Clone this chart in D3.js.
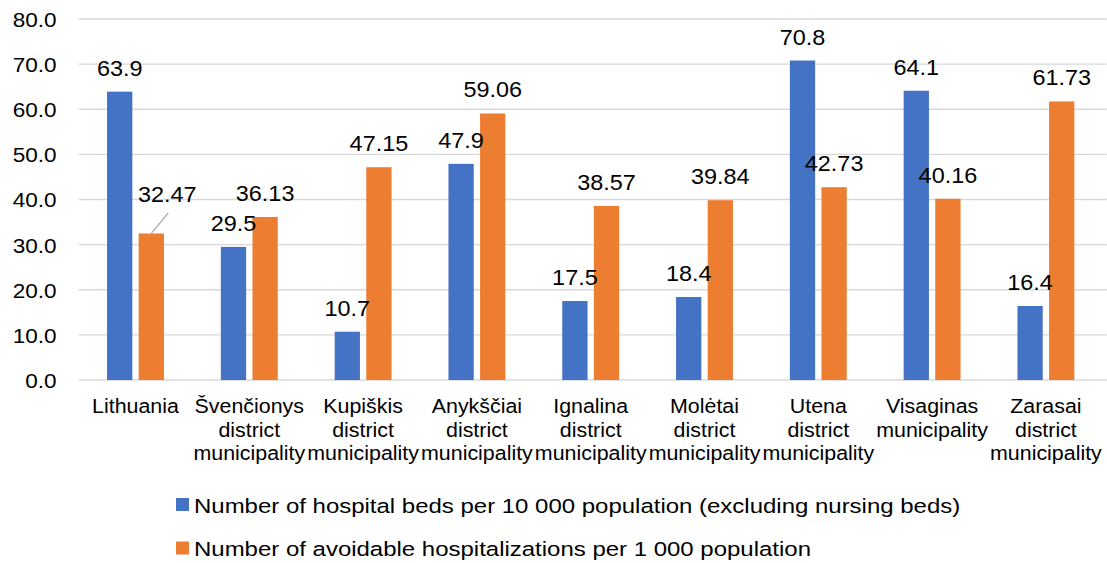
<!DOCTYPE html>
<html>
<head>
<meta charset="utf-8">
<script src="https://cdn.jsdelivr.net/npm/d3@7"></script>
<style>
  html, body { margin: 0; padding: 0; background: #fff; }
  svg { display: block; font-family: "Liberation Sans", Arial, sans-serif; }
</style>
</head>
<body>
<svg id="chart" width="1107" height="563"></svg>
<script>
// Categories (each label split into its display lines)
const categories = [
  ["Lithuania"],
  ["Švenčionys", "district", "municipality"],
  ["Kupiškis", "district", "municipality"],
  ["Anykščiai", "district", "municipality"],
  ["Ignalina", "district", "municipality"],
  ["Molėtai", "district", "municipality"],
  ["Utena", "district", "municipality"],
  ["Visaginas", "municipality"],
  ["Zarasai", "district", "municipality"]
];

const seriesNames = [
  "Number of hospital beds per 10 000 population (excluding nursing beds)",
  "Number of avoidable hospitalizations per 1 000 population"
];

const hospitalBeds = [63.9, 29.5, 10.7, 47.9, 17.5, 18.4, 70.8, 64.1, 16.4];
const avoidableHosp = [32.47, 36.13, 47.15, 59.06, 38.57, 39.84, 42.73, 40.16, 61.73];

const yTicks = [0, 10, 20, 30, 40, 50, 60, 70, 80];

const colors = ["#4472C4", "#ED7D31"];

const svg = d3.select("#chart");

const plotLeft = 78.6, plotRight = 1102.8, plotTop = 19, plotBottom = 380;

// Text is set slightly wide: a font size plus a horizontal stretch per role
const textStyle = {
  tick:   { size: 20.5, sx: 1.1 },
  value:  { size: 21.5, sx: 1.09 },
  cat:    { size: 20,   sx: 1.07 },
  legend: { size: 20.5, sx: 1.17 }
};

// Places a text element at (x, y), stretched horizontally about its anchor
function placeText(sel, x, y, role) {
  const st = textStyle[role];
  sel.attr("x", 0).attr("y", 0)
    .attr("font-size", st.size)
    .attr("transform", `translate(${x},${y}) scale(${st.sx},1)`);
  return sel;
}

const x0 = d3.scaleBand()
  .domain(d3.range(categories.length))
  .range([plotLeft, plotRight])
  .paddingInner(0.5)
  .paddingOuter(0.25);

const x1 = d3.scaleBand()
  .domain([0, 1])
  .range([0, x0.bandwidth()])
  .paddingInner(0.2);

const y = d3.scaleLinear().domain([0, 80]).range([plotBottom, plotTop]);

// Horizontal gridlines
svg.append("g")
  .selectAll("line")
  .data(yTicks)
  .join("line")
  .attr("x1", plotLeft)
  .attr("x2", plotRight + 4)
  .attr("y1", d => y(d))
  .attr("y2", d => y(d))
  .attr("stroke", "#d9d9d9")
  .attr("stroke-width", 1.3);

// Y axis labels
const yAxis = d3.axisLeft(y).tickValues(yTicks).tickFormat(d3.format(".1f")).tickSize(0).tickPadding(0);
const gy = svg.append("g").attr("transform", `translate(${plotLeft},0)`).call(yAxis);
gy.select(".domain").remove();
gy.selectAll("text")
  .attr("font-family", "Liberation Sans, Arial, sans-serif")
  .attr("fill", "#000")
  .attr("dy", "0.36em")
  .each(function () { placeText(d3.select(this), -22, 0, "tick"); });

// Bars
const series = [hospitalBeds, avoidableHosp];
const groups = svg.append("g")
  .selectAll("g")
  .data(categories.map((c, i) => i))
  .join("g")
  .attr("transform", i => `translate(${x0(i)},0)`);

groups.selectAll("rect")
  .data(i => series.map((s, k) => ({ k, v: s[i], i })))
  .join("rect")
  .attr("x", d => x1(d.k))
  .attr("width", x1.bandwidth())
  .attr("y", d => y(d.v))
  .attr("height", d => y(0) - y(d.v))
  .attr("fill", d => colors[d.k]);

// Value labels; the first avoidable-hospitalisation label is pulled aside with a leader line
const labelShift = { "0-1": { dx: 16, dy: -15.5 } };
const fmt = [d => d3.format(".1f")(d), d => d3.format(".2f")(d)];

groups.each(function (i) {
  const g = d3.select(this);
  series.forEach((s, k) => {
    const v = s[i];
    const cx = x1(k) + x1.bandwidth() / 2;
    const by = y(v) - 16;
    const sh = labelShift[`${i}-${k}`] || { dx: 0, dy: 0 };
    if (sh.dx || sh.dy) {
      g.append("line")
        .attr("x1", cx)
        .attr("y1", y(v))
        .attr("x2", cx + sh.dx + 1)
        .attr("y2", by + sh.dy + 11)
        .attr("stroke", "#a6a6a6")
        .attr("stroke-width", 1.2);
    }
    const t = g.append("text")
      .attr("text-anchor", "middle")
      .attr("fill", "#000")
      .text(fmt[k](v));
    placeText(t, cx + sh.dx, by + sh.dy, "value");
  });
});

// Category labels
const catG = svg.append("g");
categories.forEach((lines, i) => {
  const t = catG.append("text")
    .attr("text-anchor", "middle")
    .attr("fill", "#000");
  placeText(t, x0(i) + x0.bandwidth() / 2, 413, "cat");
  lines.forEach((ln, j) => {
    t.append("tspan")
      .attr("x", 0)
      .attr("y", j * 23.6)
      .text(ln);
  });
});

// Legend
const legend = svg.append("g");
seriesNames.forEach((name, k) => {
  const ly = 505 + k * 43.5;
  legend.append("rect")
    .attr("x", 176)
    .attr("y", ly - 7)
    .attr("width", 13)
    .attr("height", 13)
    .attr("fill", colors[k]);
  const t = legend.append("text")
    .attr("fill", "#000")
    .text(name);
  placeText(t, 194, ly + 7.5, "legend");
});
</script>
</body>
</html>
